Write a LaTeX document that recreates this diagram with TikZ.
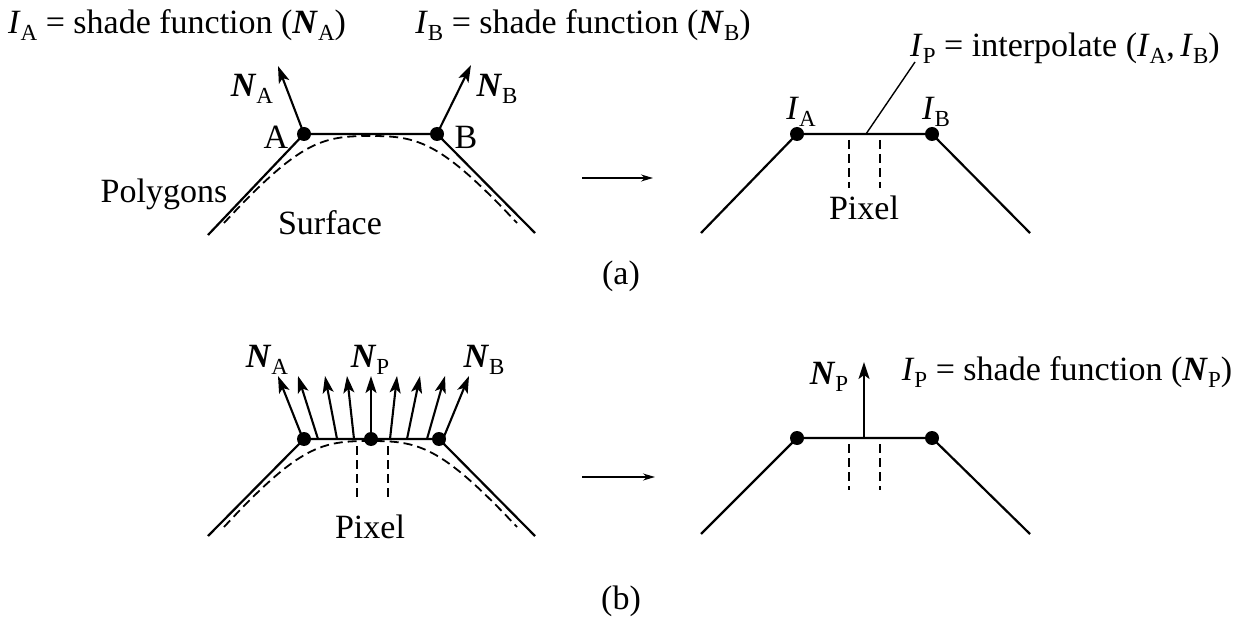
\documentclass[tikz,border=0pt]{standalone}
\usepackage{fontspec}
\setmainfont{Liberation Serif}
\usetikzlibrary{arrows.meta}
\newcommand\sbs[1]{\raisebox{-0.22em}{\fontsize{23}{23}\selectfont #1}}
\newcommand\vI{\textit{I}}
\newcommand\vN{\textbf{\textit{N}}}
\begin{document}
\begin{tikzpicture}[x=1pt,y=-1pt, font=\fontsize{34}{38}\selectfont,
 dot/.style={circle,fill,inner sep=0pt,minimum size=14pt},
 poly/.style={line width=2.2pt},
 surf/.style={line width=1.8pt,dash pattern=on 9pt off 5pt},
 pix/.style={line width=1.6pt,dash pattern=on 9pt off 5pt},
 normal/.style={line width=2.1pt,-{Stealth[length=17pt,width=11pt,inset=4pt]}},
 lbl/.style={inner sep=0pt},
 flow/.style={line width=1.5pt,-{Stealth[length=12pt,width=7pt]}}]
\useasboundingbox (0,0) rectangle (1245,628);
% ---------- (a) left
\node[dot] (A) at (304,134) {};
\node[dot] (B) at (437,134) {};
\coordinate (aL) at (208,235);
\coordinate (aR) at (535,233);
\draw[poly] (aL) -- (A.center) -- (B.center) -- (aR);
\draw[surf] (224,223) .. controls (300,141) and (322,136) .. (370,136) .. controls (418,136) and (440,141) .. (517,223);
\coordinate (NAt) at (278,66);
\coordinate (NBt) at (471,65);
\draw[normal] (A.center) -- (NAt);
\draw[normal] (B.center) -- (NBt);
\node[lbl] (lNA) at (252,89) {\vN\sbs{A}};
\node[lbl] (lNB) at (497,89) {\vN\sbs{B}};
\node[lbl] (lA) at (276,137) {A};
\node[lbl] (lB) at (466,137) {B};
\node[lbl] (poly) at (164,194) {Polygons};
\node[lbl] (surfl) at (330,223) {Surface};
\node[lbl] (tA) at (177,25) {\vI\sbs{A} = shade function (\vN\sbs{A})};
\node[lbl] (tB) at (583,25) {\vI\sbs{B} = shade function (\vN\sbs{B})};
% arrow (a)
\coordinate (fa1) at (582,178);
\coordinate (fa2) at (653,178);
\draw[flow] (fa1) -- (fa2);
\node[lbl] (capa) at (621,276) {(a)};
% ---------- (a) right
\node[dot] (IA) at (797,134) {};
\node[dot] (IB) at (932,134) {};
\coordinate (rL) at (701,233);
\coordinate (rR) at (1030,233);
\draw[poly] (rL) -- (IA.center) -- (IB.center) -- (rR);
\draw[pix] (849,140) -- (849,188);
\draw[pix] (880,140) -- (880,188);
\node[lbl] (pixa) at (864,208) {Pixel};
\node[lbl] (lIA) at (801,112) {\vI\sbs{A}};
\node[lbl] (lIB) at (936,112) {\vI\sbs{B}};
\node[lbl] (tIP) at (1065,48) {\vI\sbs{P} = interpolate (\vI\sbs{A},\,\vI\sbs{B})};
\coordinate (lead) at (866,134);
\draw[line width=1.4pt] (lead) -- (915,62);
% ---------- (b) left
\node[dot] (bA) at (304,439) {};
\node[dot] (bP) at (371,439) {};
\node[dot] (bB) at (439,439) {};
\coordinate (bL) at (208,536);
\coordinate (bR) at (535,536);
\draw[poly] (bL) -- (bA.center) -- (bP.center) -- (bB.center) -- (bR);
\draw[surf] (224,527) .. controls (300,445) and (322,441) .. (370,441) .. controls (418,441) and (440,445) .. (517,527);
\draw[pix] (357,446) -- (357,500);
\draw[pix] (388,446) -- (388,500);
\node[lbl] (pixb) at (370,527) {Pixel};
\foreach \bx/\tx [count=\i] in {303/278,318/298,337/325,354/347,371/371,390/397,407/420,427/445,443/469}{
  \coordinate (nb\i) at (\bx,439);
  \coordinate (nt\i) at (\tx,376);
  \draw[normal] (nb\i) -- (nt\i);
}
\node[lbl] (lbNA) at (267,360) {\vN\sbs{A}};
\node[lbl] (lbNP) at (370,360) {\vN\sbs{P}};
\node[lbl] (lbNB) at (484,360) {\vN\sbs{B}};
% arrow (b)
\coordinate (fb1) at (582,477);
\coordinate (fb2) at (655,477);
\draw[flow] (fb1) -- (fb2);
\node[lbl] (capb) at (621,601) {(b)};
% ---------- (b) right
\node[dot] (rA) at (797,438) {};
\node[dot] (rB) at (932,438) {};
\coordinate (sL) at (701,534);
\coordinate (sR) at (1030,534);
\draw[poly] (sL) -- (rA.center) -- (rB.center) -- (sR);
\draw[pix] (849,444) -- (849,490);
\draw[pix] (880,444) -- (880,490);
\coordinate (np0) at (864,438);
\coordinate (np1) at (864,362);
\draw[normal] (np0) -- (np1);
\node[lbl] (lNPr) at (829,377) {\vN\sbs{P}};
\node[lbl] (tIPb) at (1067,372) {\vI\sbs{P} = shade function (\vN\sbs{P})};
\end{tikzpicture}
\end{document}
